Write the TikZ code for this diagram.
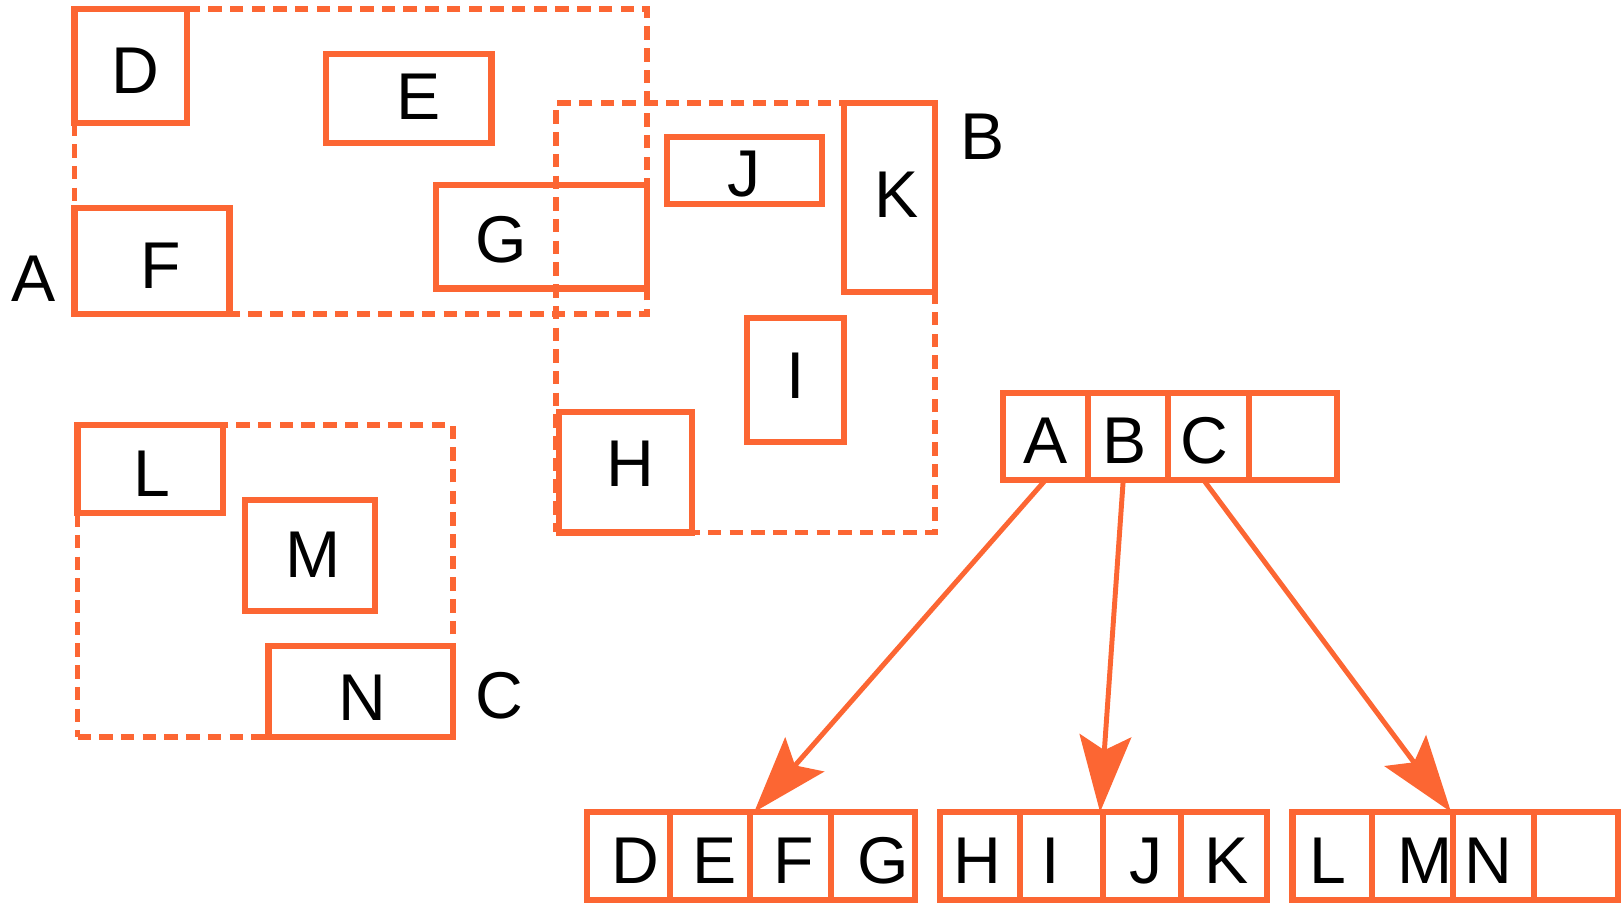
\documentclass[tikz,border=0pt]{standalone}
\usepackage{fontspec}
\setmainfont{Liberation Sans}
\usetikzlibrary{arrows.meta,fit}
\definecolor{ora}{RGB}{252,102,51}
\begin{document}
\begin{tikzpicture}[x=0.5pt,y=-0.5pt,
  solidbox/.style={draw=ora, line width=3pt, inner sep=0pt, outer sep=0pt, rectangle},
  groupbox/.style={draw=ora, line width=2.8pt, dash pattern=on 6.5pt off 4pt, inner sep=0pt, outer sep=0pt, rectangle},
  letter/.style={anchor=base, inner sep=0pt, font=\fontsize{32}{38}\selectfont},
  link/.style={draw=ora, line width=2.4pt, -{Stealth[length=37pt,width=25pt,inset=7pt]}}]
\path[use as bounding box] (0,0) rectangle (1568,873);

% ---- group bounding rectangles (dashed) ----
\node[groupbox, fit={(72,8.7) (625.5,304)}] (gA) {};
\node[groupbox, fit={(537.8,100) (904.4,515)}] (gB) {};
\node[groupbox, fit={(75,411) (438,712.6)}] (gC) {};

% ---- entries of group A ----
\node[solidbox, fit={(72,8.7) (181,119.3)}] (bD) {};
\node[solidbox, fit={(315.5,52.5) (475.5,138)}] (bE) {};
\node[solidbox, fit={(72,201) (222,304)}] (bF) {};
\node[solidbox, fit={(422,179) (625.5,279)}] (bG) {};
\node[letter] (tD) at (130.7,90.3) {D};
\node[letter] (tE) at (405,115.4) {E};
\node[letter] (tF) at (155.7,279) {F};
\node[letter] (tG) at (485,253.5) {G};
\node[letter] (lA) at (32.5,291.8) {A};

% ---- entries of group B ----
\node[solidbox, fit={(644.9,132.2) (794.8,197.6)}] (bJ) {};
\node[solidbox, fit={(816.7,100) (904.4,282.8)}] (bK) {};
\node[solidbox, fit={(722.9,307.3) (816.7,427.2)}] (bI) {};
\node[solidbox, fit={(541,398.2) (669.7,515)}] (bH) {};
\node[letter] (tJ) at (720,190.5) {J};
\node[letter] (tK) at (867,210.6) {K};
\node[letter] (tI) at (770,385.3) {I};
\node[letter] (tH) at (610,470.7) {H};
\node[letter] (lB) at (950.4,154) {B};

% ---- entries of group C ----
\node[solidbox, fit={(75,411) (215.5,496.5)}] (bL) {};
\node[solidbox, fit={(237.2,483.7) (363,590.7)}] (bM) {};
\node[solidbox, fit={(259.8,624.9) (438,712.6)}] (bN) {};
\node[letter] (tL) at (147.4,480.4) {L};
\node[letter] (tM) at (303,558.4) {M};
\node[letter] (tN) at (350.6,697.1) {N};
\node[letter] (lC) at (483.3,694.8) {C};

% ---- root record ----
\node[solidbox, fit={(970.5,379.8) (1052.1,464.3)}] (rA) {};
\node[solidbox, fit={(1052.1,379.8) (1130.1,464.3)}] (rB) {};
\node[solidbox, fit={(1130.1,379.8) (1208.4,464.3)}] (rC) {};
\node[solidbox, fit={(1208.4,379.8) (1293,464.3)}] (rX) {};
\node[letter] (rAt) at (1011.6,448) {A};
\node[letter] (rBt) at (1087.5,448) {B};
\node[letter] (rCt) at (1164.8,448) {C};

% ---- leaf records ----
\node[solidbox, fit={(567.6,785.5) (648.3,870.6)}] (b1c1) {};
\node[solidbox, fit={(648.3,785.5) (725.1,870.6)}] (b1c2) {};
\node[solidbox, fit={(725.1,785.5) (804.2,870.6)}] (b1c3) {};
\node[solidbox, fit={(804.2,785.5) (885.3,870.6)}] (b1c4) {};
\node[solidbox, fit={(909.3,785.5) (987,870.6)}] (b2c1) {};
\node[solidbox, fit={(987,785.5) (1066.7,870.6)}] (b2c2) {};
\node[solidbox, fit={(1066.7,785.5) (1142.7,870.6)}] (b2c3) {};
\node[solidbox, fit={(1142.7,785.5) (1225.6,870.6)}] (b2c4) {};
\node[solidbox, fit={(1250.3,785.5) (1327.4,870.6)}] (b3c1) {};
\node[solidbox, fit={(1327.4,785.5) (1405.2,870.6)}] (b3c2) {};
\node[solidbox, fit={(1405.2,785.5) (1483.8,870.6)}] (b3c3) {};
\node[solidbox, fit={(1483.8,785.5) (1565.3,870.6)}] (b3c4) {};
\node[letter] (b1t1) at (615,854.5) {D};
\node[letter] (b1t2) at (690.8,854.5) {E};
\node[letter] (b1t3) at (767.6,854.5) {F};
\node[letter] (b1t4) at (854,854.5) {G};
\node[letter] (b2t1) at (945.6,854.5) {H};
\node[letter] (b2t2) at (1016,854.5) {I};
\node[letter] (b2t3) at (1109,854.5) {J};
\node[letter] (b2t4) at (1186.7,854.5) {K};
\node[letter] (b3t1) at (1284,854.5) {L};
\node[letter] (b3t2) at (1378,854.5) {M};
\node[letter] (b3t3) at (1440,854.5) {N};

% ---- child pointers ----
\draw[link] (rA.south) -- ([xshift=2.2pt]b1c3.north west);
\draw[link] ([xshift=-2.3pt]rB.south) -- ([xshift=-1.3pt]b2c3.north west);
\draw[link] ([xshift=-2.5pt]rC.south) -- ([xshift=-0.8pt]b3c3.north west);
\end{tikzpicture}
\end{document}
